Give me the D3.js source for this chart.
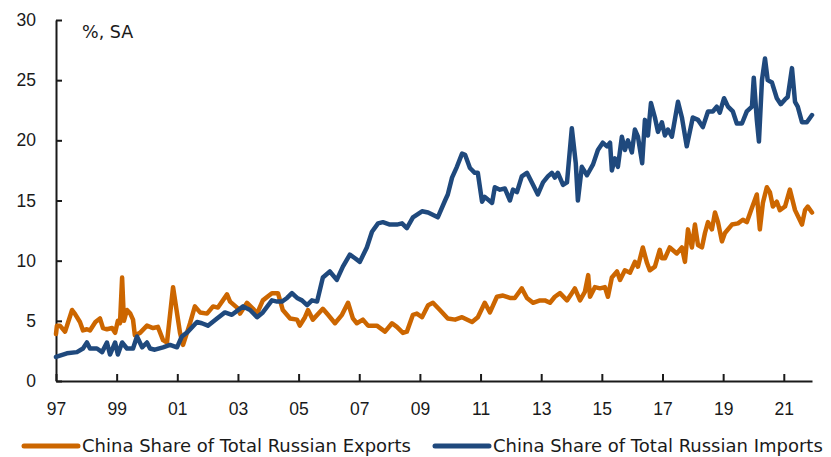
<!DOCTYPE html>
<html>
<head>
<meta charset="utf-8">
<script src="https://cdn.jsdelivr.net/npm/d3@7"></script>
<style>
  html, body { margin: 0; padding: 0; background: #fff; }
  svg { display: block; font-family: 'DejaVu Sans', sans-serif; }
</style>
</head>
<body>
<div id="chart"></div>
<script>
// China share of Russian trade, %, SA (decimal year, value)
const exportsPts = [
  [1997.00,3.9],[1997.03,4.6],[1997.13,4.6],[1997.30,4.1],[1997.53,5.9],[1997.62,5.6],[1997.79,4.9],[1997.89,4.2],
  [1998.02,4.3],[1998.12,4.2],[1998.30,4.9],[1998.45,5.2],[1998.55,4.4],[1998.68,4.3],[1998.85,4.4],[1998.95,4.0],
  [1999.04,5.0],[1999.11,4.8],[1999.18,8.6],[1999.24,5.0],[1999.34,5.9],[1999.45,5.6],[1999.54,5.1],[1999.60,3.8],
  [1999.77,4.0],[2000.00,4.6],[2000.20,4.4],[2000.36,4.5],[2000.53,3.4],[2000.66,3.2],[2000.86,7.8],[2001.09,4.0],
  [2001.19,3.0],[2001.42,4.8],[2001.58,6.2],[2001.75,5.7],[2001.98,5.6],[2002.18,6.2],[2002.34,6.1],[2002.64,7.2],
  [2002.74,6.6],[2002.97,6.1],[2003.07,5.6],[2003.30,6.5],[2003.50,6.0],[2003.63,5.6],[2003.82,6.7],[2004.12,7.3],
  [2004.32,7.3],[2004.48,5.9],[2004.72,5.2],[2004.95,5.1],[2005.04,4.6],[2005.21,5.3],[2005.31,5.9],[2005.47,5.1],
  [2005.80,6.0],[2005.97,5.5],[2006.20,4.8],[2006.43,5.5],[2006.63,6.5],[2006.79,5.2],[2006.92,4.8],[2007.12,5.1],
  [2007.29,4.6],[2007.58,4.6],[2007.85,4.1],[2008.08,4.8],[2008.24,4.5],[2008.44,4.0],[2008.57,4.1],[2008.77,5.5],
  [2008.90,5.6],[2009.07,5.3],[2009.27,6.3],[2009.43,6.5],[2009.66,5.9],[2009.92,5.2],[2010.16,5.1],[2010.39,5.3],
  [2010.72,4.9],[2010.91,5.3],[2011.14,6.5],[2011.31,5.7],[2011.54,7.0],[2011.74,7.1],[2011.97,6.9],[2012.13,6.9],
  [2012.36,7.7],[2012.53,6.9],[2012.73,6.5],[2012.96,6.7],[2013.12,6.7],[2013.29,6.5],[2013.45,7.0],[2013.62,7.3],
  [2013.85,6.7],[2014.01,7.3],[2014.11,7.7],[2014.28,6.7],[2014.44,7.4],[2014.55,8.8],[2014.61,7.0],[2014.77,7.8],
  [2014.94,7.7],[2015.10,7.8],[2015.20,7.0],[2015.33,8.6],[2015.50,9.1],[2015.60,8.4],[2015.76,9.2],[2015.93,9.0],
  [2016.09,9.9],[2016.19,9.5],[2016.35,11.1],[2016.49,9.8],[2016.58,9.2],[2016.75,9.5],[2016.91,10.9],[2016.98,10.2],
  [2017.08,10.2],[2017.24,11.1],[2017.47,10.6],[2017.64,11.1],[2017.74,9.9],[2017.84,12.6],[2017.97,11.1],[2018.07,13.0],
  [2018.17,11.3],[2018.30,11.1],[2018.40,12.3],[2018.50,13.2],[2018.63,12.6],[2018.73,14.0],[2018.83,13.2],[2018.96,11.6],
  [2019.06,12.3],[2019.29,13.0],[2019.49,13.1],[2019.65,13.4],[2019.78,13.2],[2019.95,14.4],[2020.11,15.5],[2020.21,12.6],
  [2020.31,14.8],[2020.44,16.1],[2020.54,15.7],[2020.64,14.5],[2020.77,14.9],[2020.87,14.2],[2021.04,14.5],[2021.20,15.9],
  [2021.37,14.2],[2021.60,13.0],[2021.70,14.2],[2021.79,14.5],[2021.93,14.0]
];
const importsPts = [
  [1997.00,2.0],[1997.36,2.3],[1997.69,2.4],[1997.89,2.7],[1998.02,3.2],[1998.12,2.7],[1998.35,2.7],[1998.52,2.4],
  [1998.68,3.2],[1998.78,2.2],[1998.95,3.2],[1999.04,2.2],[1999.18,3.2],[1999.34,2.7],[1999.54,2.7],[1999.67,3.7],
  [1999.84,2.8],[2000.00,3.2],[2000.10,2.7],[2000.26,2.6],[2000.53,2.8],[2000.76,3.0],[2000.99,2.8],[2001.15,3.7],
  [2001.35,4.1],[2001.65,4.9],[2001.81,4.8],[2002.01,4.6],[2002.31,5.2],[2002.57,5.7],[2002.80,5.5],[2003.17,6.2],
  [2003.40,5.9],[2003.63,5.3],[2003.82,5.7],[2004.12,6.7],[2004.29,6.6],[2004.45,6.6],[2004.62,6.9],[2004.78,7.3],
  [2004.95,6.9],[2005.11,6.7],[2005.28,6.3],[2005.44,6.7],[2005.61,6.6],[2005.80,8.6],[2006.03,9.1],[2006.26,8.4],
  [2006.46,9.5],[2006.69,10.5],[2006.86,10.2],[2007.02,9.9],[2007.25,11.1],[2007.42,12.4],[2007.62,13.1],[2007.78,13.2],
  [2008.01,13.0],[2008.24,13.0],[2008.41,13.1],[2008.57,12.7],[2008.77,13.6],[2009.07,14.1],[2009.27,14.0],[2009.59,13.6],
  [2009.83,15.0],[2009.92,15.5],[2010.06,16.9],[2010.22,17.8],[2010.39,18.9],[2010.49,18.8],[2010.65,17.7],[2010.81,17.3],
  [2010.91,17.3],[2011.05,14.9],[2011.14,15.3],[2011.38,14.8],[2011.47,16.1],[2011.64,15.9],[2011.80,16.0],[2011.97,15.0],
  [2012.07,15.9],[2012.20,15.7],[2012.36,17.0],[2012.53,17.3],[2012.73,16.3],[2012.89,15.5],[2013.06,16.5],[2013.22,17.0],
  [2013.35,17.3],[2013.45,16.9],[2013.55,17.3],[2013.72,16.3],[2013.85,16.5],[2014.01,21.0],[2014.14,18.1],[2014.21,15.0],
  [2014.34,17.8],[2014.51,17.1],[2014.71,18.0],[2014.87,19.2],[2015.03,19.8],[2015.17,19.5],[2015.27,19.8],[2015.33,17.5],
  [2015.43,18.5],[2015.53,17.8],[2015.66,20.3],[2015.76,19.2],[2015.86,20.0],[2015.99,19.0],[2016.09,20.9],[2016.19,20.3],
  [2016.33,18.1],[2016.42,21.7],[2016.52,20.4],[2016.62,23.1],[2016.75,21.9],[2016.85,20.7],[2016.98,21.5],[2017.08,20.4],
  [2017.18,20.9],[2017.31,20.3],[2017.51,23.2],[2017.64,21.9],[2017.80,19.5],[2018.00,21.9],[2018.17,21.7],[2018.33,21.1],
  [2018.50,22.4],[2018.66,22.4],[2018.79,22.8],[2018.89,22.3],[2019.03,23.5],[2019.16,22.8],[2019.32,22.4],[2019.45,21.4],
  [2019.62,21.4],[2019.78,22.4],[2019.95,22.8],[2020.01,25.2],[2020.11,21.7],[2020.18,19.9],[2020.28,25.0],[2020.38,26.8],
  [2020.47,25.0],[2020.61,24.8],[2020.77,23.5],[2020.90,23.0],[2021.04,23.4],[2021.13,23.6],[2021.27,26.0],[2021.37,23.2],
  [2021.46,22.8],[2021.60,21.5],[2021.76,21.5],[2021.93,22.1]
];
const yTicks = [0, 5, 10, 15, 20, 25, 30];
const xTicks = [1997, 1999, 2001, 2003, 2005, 2007, 2009, 2011, 2013, 2015, 2017, 2019, 2021];
const seriesNames = ['China Share of Total Russian Exports', 'China Share of Total Russian Imports'];
const colors = ['#cc6600', '#1f497d'];

const W = 831, H = 457;
const svg = d3.select('#chart').append('svg').attr('width', W).attr('height', H);

const x = d3.scaleLinear().domain([1997, 2021.93]).range([56, 812]);
const y = d3.scaleLinear().domain([0, 30]).range([381, 20]);

// y axis, ticks pointing inside
const ya = svg.append('g').attr('transform', 'translate(56,0)')
  .call(d3.axisLeft(y).tickValues(yTicks).tickSize(-6).tickSizeOuter(0).tickPadding(20));
// x axis, ticks pointing up
const xa = svg.append('g').attr('transform', 'translate(0,381)')
  .call(d3.axisBottom(x).tickValues(xTicks).tickSize(-7).tickSizeOuter(0).tickPadding(22)
    .tickFormat(d => String(d).slice(2)));

[ya, xa].forEach(a => {
  a.selectAll('path, line').attr('stroke', '#1a1a1a').attr('stroke-width', 2);
  a.selectAll('text').attr('font-size', '17.5px').attr('fill', '#1a1a1a');
});

svg.append('text').attr('x', 82).attr('y', 38)
  .attr('font-size', '17.5px').attr('fill', '#1a1a1a').text('%, SA');

const line = d3.line().x(d => x(d[0])).y(d => y(d[1]));
[exportsPts, importsPts].forEach((pts, i) => {
  svg.append('path').datum(pts)
    .attr('fill', 'none').attr('stroke', colors[i]).attr('stroke-width', 4.5)
    .attr('stroke-linejoin', 'round').attr('stroke-linecap', 'round')
    .attr('d', line);
});

// legend
const legX = [24, 435];
seriesNames.forEach((name, i) => {
  const g = svg.append('g').attr('transform', `translate(${legX[i]},446)`);
  g.append('line').attr('x1', 0).attr('x2', 54).attr('y1', 0).attr('y2', 0)
    .attr('stroke', colors[i]).attr('stroke-width', 5).attr('stroke-linecap', 'round');
  g.append('text').attr('x', 58).attr('y', 0).attr('dy', '0.35em')
    .attr('font-size', '18px').attr('fill', '#1a1a1a').text(name);
});
</script>
</body>
</html>
